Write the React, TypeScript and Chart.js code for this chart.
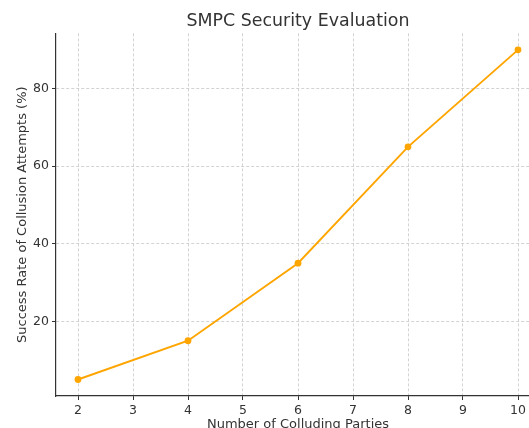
import React, { useEffect, useRef } from "react";
import { Chart, registerables } from "chart.js";

Chart.register(...registerables);

const partyCounts = [2, 4, 6, 8, 10];
const successRates = [5, 15, 35, 65, 90];
const xTickValues = [2, 3, 4, 5, 6, 7, 8, 9, 10];
const yTickValues = [20, 40, 60, 80];

const TEXT = "#333333";
const FONT = "'DejaVu Sans', sans-serif";

export default function App() {
  const ref = useRef<HTMLCanvasElement | null>(null);

  useEffect(() => {
    if (!ref.current) return;
    const chart = new Chart(ref.current, {
      type: "line",
      data: {
        datasets: [
          {
            data: partyCounts.map((x, i) => ({ x, y: successRates[i] })),
            borderColor: "#FFA500",
            backgroundColor: "#FFA500",
            borderWidth: 1.9,
            pointRadius: 3.4,
            pointHoverRadius: 3.4,
            pointBorderWidth: 0,
            tension: 0,
          },
        ],
      },
      options: {
        animation: false,
        responsive: false,
        layout: { padding: { left: 0, right: 5, top: 0, bottom: 0 } },
        plugins: {
          legend: { display: false },
          tooltip: { enabled: false },
          title: {
            display: true,
            fullSize: false,
            text: "SMPC Security Evaluation",
            color: TEXT,
            font: { family: FONT, size: 17.4, weight: "normal" },
            padding: { top: 11, bottom: 1.5 },
          },
        },
        scales: {
          x: {
            type: "linear",
            min: 1.6,
            max: 10.4,
            afterFit: (s: any) => {
              s.height = 38;
            },
            afterBuildTicks: (s: any) => {
              s.ticks = xTickValues.map((v) => ({ value: v }));
            },
            ticks: {
              color: TEXT,
              font: { family: FONT, size: 12.5 },
              padding: 3,
              maxRotation: 0,
              autoSkip: false,
              includeBounds: false,
            },
            grid: {
              color: "#c8c8c8",
              lineWidth: 0.8,
              tickLength: 4,
              tickColor: TEXT,
              tickWidth: 1,
            },
            border: { display: true, color: TEXT, width: 1.2, dash: [3, 2] },
            title: {
              display: true,
              text: "Number of Colluding Parties",
              color: TEXT,
              font: { family: FONT, size: 13 },
              padding: { top: 0, bottom: 1.5 },
            },
          },
          y: {
            type: "linear",
            min: 0.75,
            max: 94.25,
            afterFit: (s: any) => {
              s.width = 56;
            },
            afterBuildTicks: (s: any) => {
              s.ticks = yTickValues.map((v) => ({ value: v }));
            },
            ticks: {
              color: TEXT,
              font: { family: FONT, size: 12.5 },
              padding: 3,
              autoSkip: false,
              includeBounds: false,
            },
            grid: {
              color: "#c8c8c8",
              lineWidth: 0.8,
              tickLength: 4,
              tickColor: TEXT,
              tickWidth: 1,
            },
            border: { display: true, color: TEXT, width: 1.2, dash: [3, 2] },
            title: {
              display: true,
              text: "Success Rate of Collusion Attempts (%)",
              color: TEXT,
              font: { family: FONT, size: 13 },
              padding: { top: 15, bottom: 0 },
            },
          },
        },
      },
    });
    return () => chart.destroy();
  }, []);

  return (
    <div
      style={{
        position: "fixed",
        left: 0,
        top: 0,
        width: 529,
        height: 428,
        overflow: "hidden",
        background: "#ffffff",
      }}
    >
      <canvas ref={ref} width={545} height={434} style={{ display: "block" }} />
    </div>
  );
}
